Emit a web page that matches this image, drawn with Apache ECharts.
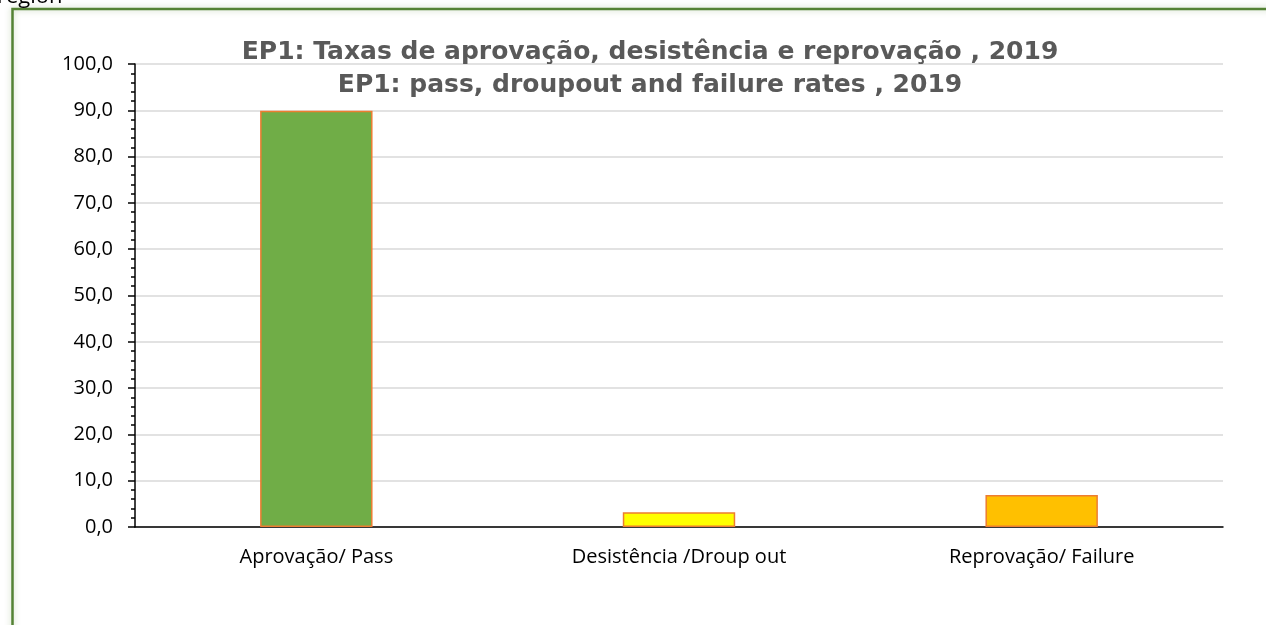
<!DOCTYPE html>
<html>
<head>
<meta charset="utf-8">
<title>EP1 taxas 2019</title>
<script src="https://cdn.jsdelivr.net/npm/echarts@6/dist/echarts.min.js"></script>
<style>
  html, body { margin: 0; padding: 0; background: #fff; }
  #chart { width: 1266px; height: 625px; }
</style>
</head>
<body>
<div id="chart"></div>
<script>
// dados
const categories = ['Aprovação/ Pass', 'Desistência /Droup out', 'Reprovação/ Failure']
const rates = [89.9, 3.2, 6.9]
const barColors = ['#70AD47', '#FFFF00', '#FFC000']

const myChart = echarts.init(document.getElementById('chart'))

myChart.setOption({
  animation: false,
  title: {
    text: 'EP1: Taxas de aprovação, desistência e reprovação , 2019\nEP1: pass, droupout and failure rates , 2019',
    left: 650,
    textAlign: 'center',
    top: 36,
    padding: 0,
    textStyle: {
      color: '#595959',
      fontFamily: 'DejaVu Sans',
      fontWeight: 'bold',
      fontSize: 25,
      lineHeight: 33
    }
  },
  grid: {
    left: 135,
    right: 43,
    top: 64,
    bottom: 98
  },
  xAxis: {
    type: 'category',
    data: categories,
    axisLine: {
      lineStyle: { color: '#000', width: 1.5 }
    },
    axisTick: {
      length: 7,
      lineStyle: { color: '#000', width: 1.5 }
    },
    axisLabel: {
      color: '#000',
      fontFamily: 'Open Sans',
      fontSize: 20,
      margin: 20
    }
  },
  yAxis: {
    type: 'value',
    min: 0,
    max: 100,
    interval: 10,
    axisLine: {
      show: true,
      lineStyle: { color: '#000', width: 1.5 }
    },
    axisTick: {
      show: true,
      length: 7,
      lineStyle: { color: '#000', width: 1.5 }
    },
    minorTick: {
      show: true,
      splitNumber: 5,
      length: 4,
      lineStyle: { color: '#000', width: 1.5 }
    },
    axisLabel: {
      color: '#000',
      fontFamily: 'Open Sans',
      fontSize: 20,
      margin: 22,
      formatter: function (v) {
        return v.toFixed(1).replace('.', ',')
      }
    },
    splitLine: {
      lineStyle: { color: '#D9D9D9', width: 1.5 }
    }
  },
  series: [
    {
      type: 'bar',
      barWidth: '31%',
      data: rates.map(function (v, i) {
        return { value: v, itemStyle: { color: barColors[i] } }
      }),
      itemStyle: {
        borderColor: '#ED7D31',
        borderWidth: 1.5
      }
    }
  ],
  graphic: [
    {
      type: 'rect',
      shape: { x: 12.5, y: 9, width: 1300, height: 700 },
      style: { fill: 'none', stroke: '#548235', lineWidth: 2.5, shadowBlur: 6, shadowColor: 'rgba(84,130,53,0.35)' },
      silent: true
    },
    {
      type: 'text',
      left: -3,
      top: -14,
      style: { text: 'region', fontSize: 22, fontFamily: 'Open Sans', fill: '#000' }
    }
  ]
})
</script>
</body>
</html>
